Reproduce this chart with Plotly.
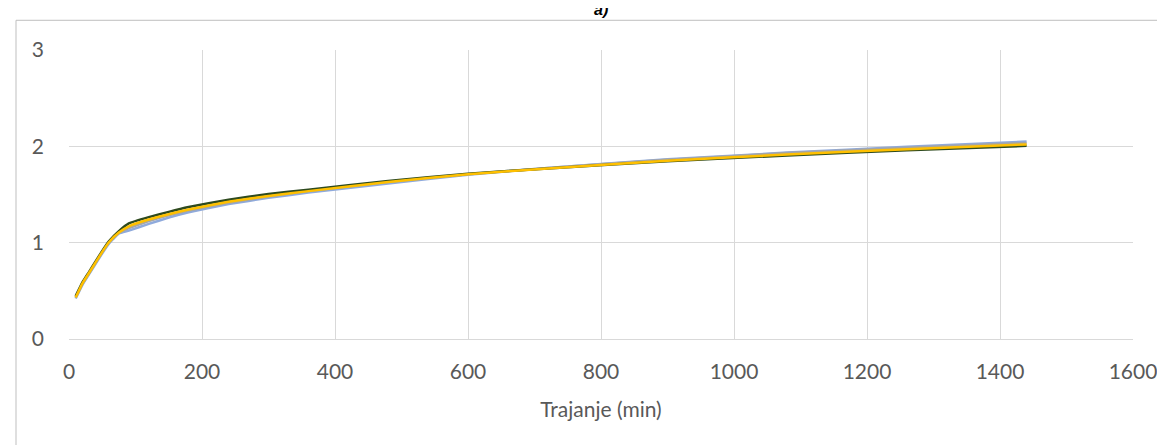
import plotly.graph_objects as go

# Durations (min)
durations = [10, 20, 30, 40, 50, 60, 75, 90, 120, 150, 180, 240, 300, 360, 480, 600, 720, 900, 1080, 1260, 1440]

# Series values
s_blue  = [0.42, 0.56, 0.67, 0.78, 0.89, 0.99, 1.095, 1.125, 1.195, 1.26, 1.315, 1.40, 1.465, 1.52, 1.615, 1.705, 1.775, 1.865, 1.935, 1.995, 2.05]
s_grey  = [0.43, 0.57, 0.68, 0.79, 0.90, 1.00, 1.10, 1.15, 1.225, 1.285, 1.335, 1.415, 1.48, 1.535, 1.63, 1.71, 1.775, 1.86, 1.93, 1.985, 2.035]
s_gold  = [0.43, 0.575, 0.685, 0.795, 0.905, 1.005, 1.105, 1.17, 1.24, 1.295, 1.345, 1.425, 1.485, 1.535, 1.63, 1.71, 1.77, 1.85, 1.915, 1.97, 2.02]
s_dark  = [0.445, 0.585, 0.695, 0.805, 0.915, 1.015, 1.12, 1.20, 1.265, 1.32, 1.37, 1.445, 1.505, 1.55, 1.64, 1.715, 1.77, 1.845, 1.905, 1.96, 2.005]

xticks = [0, 200, 400, 600, 800, 1000, 1200, 1400, 1600]
yticks = [0, 1, 2, 3]

FONT = "Lato"
fig = go.Figure()
for vals, col in [(s_blue, "#8FAADC"), (s_grey, "#A5A5A5"), (s_dark, "#2E4A1E"), (s_gold, "#FFC000")]:
    fig.add_trace(go.Scatter(x=durations, y=vals, mode="lines",
                             line=dict(color=col, width=2.5, shape="spline", smoothing=0.3),
                             showlegend=False, hoverinfo="skip"))

fig.update_layout(
    width=1165, height=445,
    margin=dict(l=61, r=40, t=42, b=114),
    paper_bgcolor="white", plot_bgcolor="white",
    font=dict(family=FONT, size=21, color="#595959"),
    xaxis=dict(range=[0, 1600], tickvals=xticks, showgrid=True, gridcolor="#D9D9D9", gridwidth=1,
               zeroline=False, showline=True, linecolor="#D9D9D9", ticks="",
               ticklabelstandoff=14,
               title=dict(text="Trajanje (min)", standoff=20, font=dict(family=FONT, size=21, color="#595959"))),
    yaxis=dict(range=[0, 3], tickvals=yticks, showgrid=True, gridcolor="#D9D9D9", gridwidth=1,
               zeroline=False, showline=False, ticks="", ticklabelstandoff=24),
    shapes=[dict(type="rect", xref="paper", yref="paper", x0=-0.0498, x1=1.3, y0=-0.6, y1=1.1028,
                 line=dict(color="#BFBFBF", width=1), fillcolor="rgba(0,0,0,0)", layer="below")],
    annotations=[dict(text="<b><i>a)</i></b>", xref="paper", yref="paper", x=0.5,
                      y=1.104, yanchor="bottom", xanchor="center", showarrow=False,
                      font=dict(family="Liberation Sans", size=16, color="#000000"))],
)

fig.write_html("out.html")
